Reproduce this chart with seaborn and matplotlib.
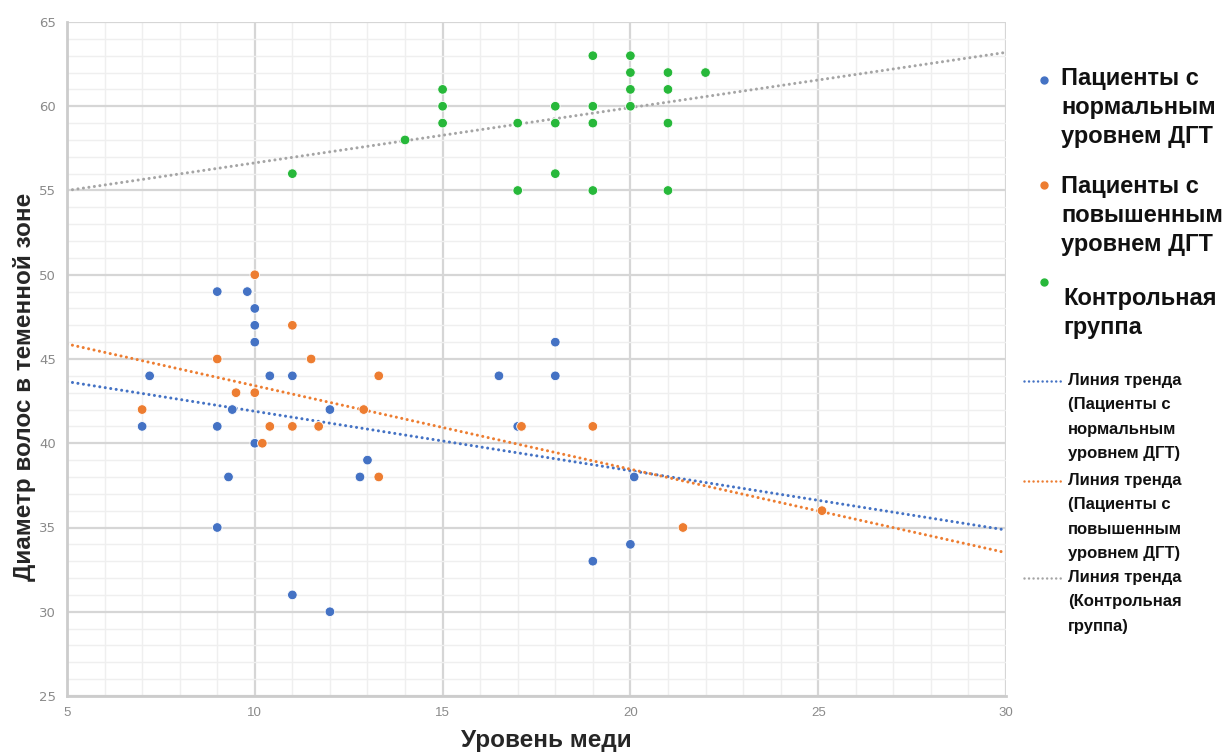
import matplotlib
matplotlib.use("Agg")
import matplotlib.pyplot as plt
from matplotlib.lines import Line2D
from matplotlib.ticker import MultipleLocator
import numpy as np
import pandas as pd
import seaborn as sns

# Data
normal_x = [7, 7.2, 9, 9, 9, 9.3, 9.4, 9.8, 10, 10, 10, 10, 10.4, 11, 11, 12, 12,
            12.8, 13, 16.5, 17, 18, 18, 20.1, 20, 19]
normal_y = [41, 44, 49, 41, 35, 38, 42, 49, 48, 47, 46, 40, 44, 44, 31, 42, 30,
            38, 39, 44, 41, 46, 44, 38, 34, 33]

high_x = [7, 9, 9.5, 10, 10, 10.2, 10.4, 11, 11, 11.5, 11.7, 12.9, 13.3, 13.3,
          17.1, 19, 21.4, 25.1]
high_y = [42, 45, 43, 50, 43, 40, 41, 47, 41, 45, 41, 42, 44, 38,
          41, 41, 35, 36]

control_x = [11, 14, 15, 15, 15, 17, 17, 18, 18, 18, 19, 19, 19, 19, 20, 20, 20, 20,
             21, 21, 21, 21, 22]
control_y = [56, 58, 61, 60, 59, 59, 55, 60, 59, 56, 63, 60, 59, 55, 63, 62, 61, 60,
             62, 61, 59, 55, 62]

groups = ["Пациенты с\nнормальным\nуровнем ДГТ",
          "Пациенты с\nповышенным\nуровнем ДГТ",
          "Контрольная\nгруппа"]
trend_labels = ["Линия тренда\n(Пациенты с\nнормальным\nуровнем ДГТ)",
                "Линия тренда\n(Пациенты с\nповышенным\nуровнем ДГТ)",
                "Линия тренда\n(Контрольная\nгруппа)"]
colors = ["#4472C4", "#ED7D31", "#27B83A"]
trend_colors = ["#4472C4", "#ED7D31", "#A5A5A5"]

df = pd.concat([
    pd.DataFrame({"x": normal_x, "y": normal_y, "group": groups[0]}),
    pd.DataFrame({"x": high_x, "y": high_y, "group": groups[1]}),
    pd.DataFrame({"x": control_x, "y": control_y, "group": groups[2]}),
])

sns.set_style("white")
narrow = ["Liberation Sans Narrow", "Liberation Sans", "DejaVu Sans"]
wide = ["Liberation Sans", "DejaVu Sans"]
dots = (0, (0.01, 1.8))

fig = plt.figure(figsize=(12.25, 7.53), dpi=100)
ax = fig.add_axes([67 / 1225, 57 / 753, (1006 - 67) / 1225, (696 - 22) / 753])
ax.set_xlim(5, 30)
ax.set_ylim(25, 65)

# grid
ax.xaxis.set_major_locator(MultipleLocator(5))
ax.yaxis.set_major_locator(MultipleLocator(5))
ax.xaxis.set_minor_locator(MultipleLocator(1))
ax.yaxis.set_minor_locator(MultipleLocator(1))
ax.grid(which="major", color="#d6d6d6", linewidth=1.6)
ax.grid(which="minor", color="#efefef", linewidth=1.0)
ax.set_axisbelow(True)

# trend lines (least squares, extended over the whole axis)
for g, c in zip(groups, trend_colors):
    sub = df[df["group"] == g]
    sns.regplot(data=sub, x="x", y="y", ax=ax, scatter=False, ci=None,
                truncate=False,
                line_kws=dict(color=c, linewidth=2.2, linestyle=dots,
                              dash_capstyle="round"))
ax.set_xlim(5, 30)
ax.set_ylim(25, 65)

sns.scatterplot(data=df, x="x", y="y", hue="group", palette=colors, ax=ax,
                s=48, edgecolor="white", linewidth=0.6, legend=False, zorder=3)

for s in ["top", "right"]:
    ax.spines[s].set_visible(False)
for s in ["left", "bottom"]:
    ax.spines[s].set_color("#cccccc")
    ax.spines[s].set_linewidth(2)

ax.tick_params(which="major", length=4, width=1, color="#bbbbbb",
               labelcolor="#8a8a8a", labelsize=9.5, pad=4)
ax.tick_params(which="minor", length=0)
ax.set_xticks(range(5, 31, 5))
ax.set_xticklabels([str(v) for v in range(5, 31, 5)], family=narrow)

ax.set_xlabel("")
ax.set_ylabel("")
fig.text(546 / 1225, 1 - 741 / 753, "Уровень меди", ha="center", va="center",
         fontsize=17.5, fontweight="bold", family=narrow)
fig.text(25 / 1225, 1 - 387 / 753, "Диаметр волос в теменной зоне", ha="center",
         va="center", rotation=90, fontsize=17.5, fontweight="bold", family=narrow)

# legend drawn at the right of the axes
def px(x, y):
    return x / 1225, 1 - y / 753

big_rows = [(80, 77, 1061), (185, 185, 1061), (282, 297, 1063)]
for (dy, ty, tx), lab, c in zip(big_rows, groups, colors):
    fig.add_artist(Line2D(*zip(px(1044, dy)), marker="o", markersize=5,
                          color=c, linestyle="none", transform=fig.transFigure))
    fig.text(*px(tx, ty - 10), lab, ha="left", va="top", fontsize=17,
             fontweight="bold", family=wide, linespacing=1.33, color="#111111")

small_rows = [381, 481, 578]
for y0, lab, c in zip(small_rows, trend_labels, trend_colors):
    (x1, yy), (x2, _) = px(1024, y0), px(1063, y0)
    fig.add_artist(Line2D([x1, x2], [yy, yy], color=c, linewidth=1.8,
                          linestyle=dots, dash_capstyle="round",
                          transform=fig.transFigure))
    fig.text(*px(1068, y0 - 8), lab, ha="left", va="top", fontsize=12,
             fontweight="bold", family=wide, linespacing=1.79, color="#111111")

fig.savefig("out.png", dpi=100)
